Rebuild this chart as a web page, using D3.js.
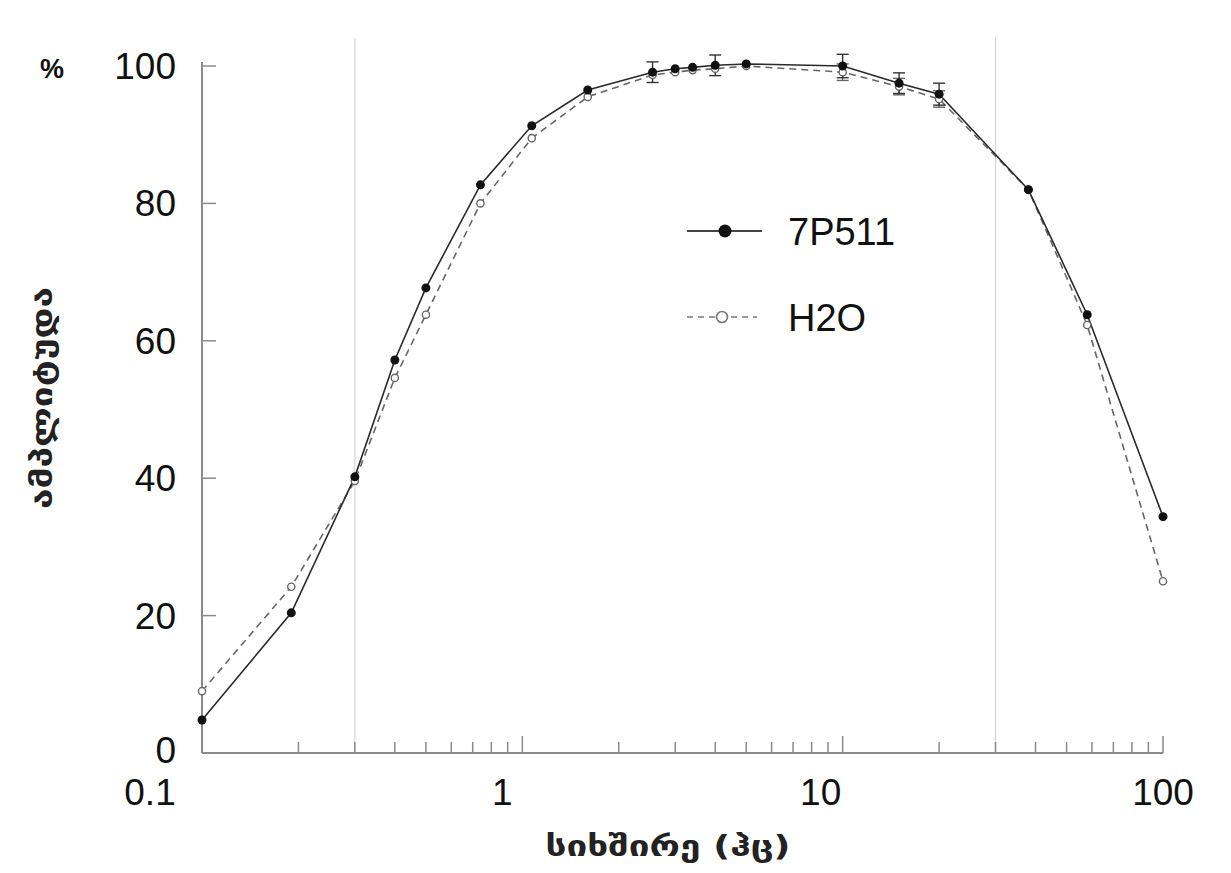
<!DOCTYPE html>
<html>
<head>
<meta charset="utf-8">
<script src="https://cdn.jsdelivr.net/npm/d3@7"></script>
<style>
  body { margin: 0; background: #fff; }
  text { font-family: "Liberation Sans", Arial, sans-serif; }
</style>
</head>
<body>
<div id="chart"></div>
<script>
// frequency values (Hz)
var freq = [0.1, 0.19, 0.3, 0.4, 0.5, 0.74, 1.07, 1.6, 2.55, 3, 3.4, 4, 5, 10, 15, 20, 38, 58, 100];
// amplitude, %
var p7511 = [4.8, 20.4, 40.2, 57.2, 67.7, 82.7, 91.3, 96.5, 99.1, 99.6, 99.8, 100.1, 100.3, 100.0, 97.5, 95.9, 82, 63.8, 34.4];
var h2o   = [9.0, 24.2, 39.6, 54.6, 63.8, 80.0, 89.5, 95.5, 98.7, 99.1, 99.4, 99.6, 100.0, 99.1, 97.0, 95.2, 82, 62.3, 25];
// error bar half-widths (0 = none)
var p7511Err = [0, 0, 0, 0, 0, 0, 0, 0, 1.5, 0, 0, 1.5, 0, 1.7, 1.5, 1.6, 0, 0, 0];
var h2oErr   = [0, 0, 0, 0, 0, 0, 0, 0, 0, 0, 0, 0, 0, 1.2, 1.2, 1.2, 0, 0, 0];
var xTicks = [0.1, 1, 10, 100];
var yTicks = [0, 20, 40, 60, 80, 100];
var refLines = [0.3, 30];
var seriesNames = ["7P511", "H2O"];

var width = 1231, height = 873;

var svg = d3.select("#chart").append("svg")
  .attr("width", width)
  .attr("height", height);

var x = d3.scaleLog().domain([0.1, 100]).range([202, 1163]);
var y = d3.scaleLinear().domain([0, 100]).range([753, 66]);

// reference vertical lines
svg.selectAll(".ref").data(refLines).enter().append("line")
  .attr("x1", d => x(d)).attr("x2", d => x(d))
  .attr("y1", 38).attr("y2", y(0))
  .attr("stroke", "#d4d4d4").attr("stroke-width", 1.2);

// x axis: minor ticks pointing up
var minor = [];
for (var dec = 0.1; dec < 100; dec *= 10) {
  for (var k = 2; k <= 9; k++) minor.push(+(dec * k).toPrecision(3));
}
var axisColor = "#8a8a8a";
svg.append("line")
  .attr("x1", x(0.1)).attr("x2", x(100))
  .attr("y1", y(0)).attr("y2", y(0))
  .attr("stroke", axisColor).attr("stroke-width", 2);
svg.selectAll(".xminor").data(minor).enter().append("line")
  .attr("x1", d => x(d)).attr("x2", d => x(d))
  .attr("y1", y(0)).attr("y2", y(0) - 11)
  .attr("stroke", axisColor).attr("stroke-width", 1.5);
svg.selectAll(".xmajor").data(xTicks).enter().append("line")
  .attr("x1", d => x(d)).attr("x2", d => x(d))
  .attr("y1", y(0)).attr("y2", y(0) - 17)
  .attr("stroke", axisColor).attr("stroke-width", 1.5);
svg.selectAll(".xlab").data(xTicks).enter().append("text")
  .attr("x", d => x(d) - (d == 0.1 ? 52 : d == 1 ? 20 : d == 10 ? 22 : 0))
  .attr("y", 805)
  .attr("text-anchor", "middle")
  .attr("font-size", 37)
  .attr("fill", "#111")
  .text(d => d);

// y axis
svg.append("line")
  .attr("x1", x(0.1)).attr("x2", x(0.1))
  .attr("y1", y(0)).attr("y2", y(100) - 4)
  .attr("stroke", axisColor).attr("stroke-width", 2);
svg.selectAll(".ytick").data(yTicks).enter().append("line")
  .attr("x1", x(0.1)).attr("x2", x(0.1) + 14)
  .attr("y1", d => y(d)).attr("y2", d => y(d))
  .attr("stroke", axisColor).attr("stroke-width", 1.5);
svg.selectAll(".ylab").data(yTicks).enter().append("text")
  .attr("x", 176)
  .attr("y", d => y(d) + (d == 0 ? 10 : 13))
  .attr("text-anchor", "end")
  .attr("font-size", 37)
  .attr("fill", "#111")
  .text(d => d);

svg.append("text")
  .attr("x", 52).attr("y", 78)
  .attr("text-anchor", "middle")
  .attr("font-size", 27)
  .attr("font-weight", "bold")
  .attr("fill", "#111")
  .text("%");

// axis titles (Georgian)
svg.append("text")
  .attr("transform", "translate(52,398) rotate(-90)")
  .attr("text-anchor", "middle")
  .style("font-family", "DejaVu Sans, sans-serif")
  .attr("font-size", 29)
  .attr("font-weight", "bold")
  .attr("textLength", 222)
  .attr("lengthAdjust", "spacingAndGlyphs")
  .attr("fill", "#222")
  .text("ამპლიტუდა");
svg.append("text")
  .attr("x", 668).attr("y", 856)
  .attr("text-anchor", "middle")
  .style("font-family", "DejaVu Sans, sans-serif")
  .attr("font-size", 29)
  .attr("font-weight", "bold")
  .attr("textLength", 245)
  .attr("lengthAdjust", "spacingAndGlyphs")
  .attr("fill", "#222")
  .text("სიხშირე (ჰც)");

var line = d3.line().x(d => x(d.f)).y(d => y(d.v));
var d7 = freq.map((f, i) => ({f: f, v: p7511[i], e: p7511Err[i]}));
var dh = freq.map((f, i) => ({f: f, v: h2o[i], e: h2oErr[i]}));

// H2O dashed
svg.append("path").datum(dh)
  .attr("d", line)
  .attr("fill", "none")
  .attr("stroke", "#666")
  .attr("stroke-width", 1.6)
  .attr("stroke-dasharray", "7,5");
// 7P511 solid
svg.append("path").datum(d7)
  .attr("d", line)
  .attr("fill", "none")
  .attr("stroke", "#2a2a2a")
  .attr("stroke-width", 1.6);

function errBars(data, color) {
  var g = svg.append("g");
  var eb = g.selectAll("g").data(data.filter(d => d.e > 0)).enter().append("g");
  eb.append("line")
    .attr("x1", d => x(d.f)).attr("x2", d => x(d.f))
    .attr("y1", d => y(d.v + d.e)).attr("y2", d => y(d.v - d.e))
    .attr("stroke", color).attr("stroke-width", 1.4);
  [1, -1].forEach(function(s) {
    eb.append("line")
      .attr("x1", d => x(d.f) - 6).attr("x2", d => x(d.f) + 6)
      .attr("y1", d => y(d.v + s * d.e)).attr("y2", d => y(d.v + s * d.e))
      .attr("stroke", color).attr("stroke-width", 1.4);
  });
}
errBars(dh, "#666");
errBars(d7, "#333");

svg.selectAll(".ph").data(dh).enter().append("circle")
  .attr("cx", d => x(d.f)).attr("cy", d => y(d.v))
  .attr("r", 3.6)
  .attr("fill", "#fff")
  .attr("stroke", "#666")
  .attr("stroke-width", 1.4);
svg.selectAll(".p7").data(d7).enter().append("circle")
  .attr("cx", d => x(d.f)).attr("cy", d => y(d.v))
  .attr("r", 4.5)
  .attr("fill", "#111");

// legend
var legY = [231, 317];
var leg = svg.selectAll(".legend").data(seriesNames).enter().append("g")
  .attr("transform", (d, i) => "translate(0," + legY[i] + ")");
leg.append("line")
  .attr("x1", 687).attr("x2", (d, i) => i == 0 ? 762 : 757)
  .attr("y1", 0).attr("y2", 0)
  .attr("stroke", (d, i) => i == 0 ? "#444" : "#777")
  .attr("stroke-width", (d, i) => i == 0 ? 2.2 : 1.6)
  .attr("stroke-dasharray", (d, i) => i == 0 ? null : "6,5");
leg.append("circle")
  .attr("cx", (d, i) => i == 0 ? 725 : 722)
  .attr("cy", 0)
  .attr("r", (d, i) => i == 0 ? 6.5 : 5.5)
  .attr("fill", (d, i) => i == 0 ? "#111" : "#fff")
  .attr("stroke", (d, i) => i == 0 ? "none" : "#777")
  .attr("stroke-width", 1.6);
leg.append("text")
  .attr("x", 788)
  .attr("y", 14)
  .attr("font-size", 38)
  .attr("fill", "#111")
  .text(d => d);
</script>
</body>
</html>
